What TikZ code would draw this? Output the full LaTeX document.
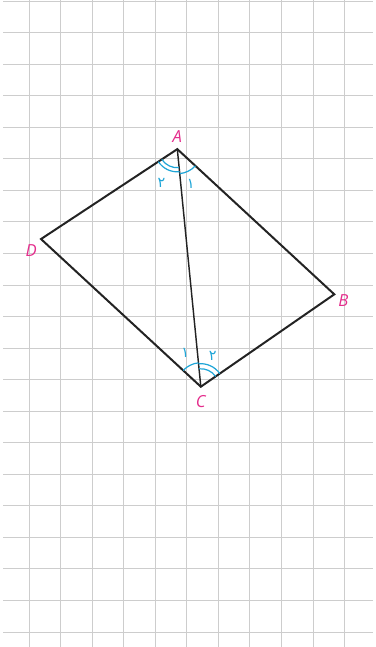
\documentclass[tikz,border=0pt]{standalone}
\usepackage{fontspec}
\setmainfont{Open Sans}
\newfontfamily\arabicfont[Script=Arabic]{DejaVu Sans}
\TeXXeTstate=1
\usetikzlibrary{positioning,angles}
\definecolor{gridgray}{RGB}{205,205,205}
\definecolor{edgegray}{RGB}{35,35,35}
\definecolor{ptpink}{RGB}{228,45,140}
\definecolor{arccyan}{RGB}{30,165,215}
\tikzset{
    gridline/.style={draw=gridgray, line width=0.8pt},
    edge/.style={draw=edgegray, line width=1.8pt, line join=miter},
    ptlabel/.style={text=ptpink, inner sep=0pt, font=\fontsize{15}{15}\selectfont\itshape},
    anglearc/.style={draw=arccyan, line width=1.1pt},
    anglenum/.style={text=arccyan, inner sep=0pt, font=\fontsize{13}{13}\selectfont\arabicfont}
}
\begin{document}
\begin{tikzpicture}
    \useasboundingbox (0,0) rectangle (11.886,20.507);
    % squared paper
    \foreach \i in {0,...,10}
        \draw[gridline] (0.92+\i,0) -- (0.92+\i,20.507);
    \foreach \j in {0,...,20}
        \draw[gridline] (0.1,0.475+\j) -- (11.82,0.475+\j);

    \coordinate (A) at (5.62,15.78);
    \coordinate (B) at (10.596,11.178);
    \coordinate (C) at (6.365,8.25);
    \coordinate (D) at (1.30,12.93);

    \draw[edge] (A) -- (B) -- (C) -- (D) -- cycle;
    \draw[edge, line width=1.3pt] (A) -- (C);

    % angles
    \pic[anglearc, angle radius=0.78cm] {angle=C--A--B};
    \pic[anglearc, angle radius=0.59cm] {angle=D--A--C};
    \pic[anglearc, angle radius=0.72cm] {angle=D--A--C};
    \pic[anglearc, angle radius=0.76cm] {angle=A--C--D};
    \pic[anglearc, angle radius=0.57cm] {angle=B--C--A};
    \pic[anglearc, angle radius=0.73cm] {angle=B--C--A};

    \node (lA) [ptlabel, above=0.19cm of A] {A};
    \node (lB) [ptlabel, below right=0cm and 0.12cm of B] {B};
    \node (lC) [ptlabel, below=0.28cm of C] {C};
    \node (lD) [ptlabel, below left=0.17cm and 0.13cm of D] {D};

    \node (a1) [anglenum] at ([shift={(291:1.19)}]A) {\beginR ۱\endR};
    \node (a2) [anglenum] at ([shift={(245:1.19)}]A) {\beginR ۲\endR};
    \node (c1) [anglenum] at ([shift={(115:1.17)}]C) {\beginR ۱\endR};
    \node (c2) [anglenum] at ([shift={(69:1.05)}]C) {\beginR ۲\endR};
\end{tikzpicture}
\end{document}
